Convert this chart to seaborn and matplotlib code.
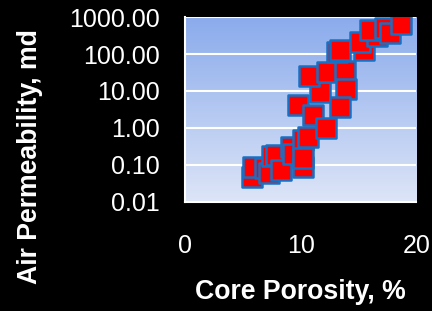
import matplotlib
matplotlib.use("Agg")
import matplotlib.pyplot as plt
import seaborn as sns
import numpy as np
import pandas as pd

# core porosity (%) vs air permeability (md)
porosity = [5.8, 5.9, 6.9, 7.3, 7.5, 7.9, 8.3, 9.2, 9.35, 10.2, 10.2, 10.65,
            10.2, 9.8, 11.1, 12.2, 11.65, 10.7, 12.3, 13.8, 13.9, 13.4,
            13.1, 13.4, 15.5, 15.1, 16.55, 15.97, 17.3, 17.7, 18.7]
permeability = [0.048, 0.089, 0.08, 0.059, 0.17, 0.19, 0.072, 0.31, 0.2, 0.09, 0.47, 0.58,
                0.15, 4.2, 2.2, 1.0, 9.6, 26.0, 32.0, 34.0, 11.0, 3.6,
                117.0, 130.0, 130.0, 218.0, 300.0, 450.0, 500.0, 370.0, 660.0]
x_ticks = [0, 10, 20]
y_ticks = [0.01, 0.1, 1, 10, 100, 1000]
y_tick_labels = ["0.01", "0.10", "1.00", "10.00", "100.00", "1000.00"]

df = pd.DataFrame({"porosity": porosity, "permeability": permeability})

sns.set_theme(style="white")
plt.rcParams["font.family"] = ["Liberation Sans", "DejaVu Sans"]

fig = plt.figure(figsize=(4.32, 3.11), dpi=100, facecolor="black")
ax = fig.add_axes([0.428, 0.351, 0.536, 0.594])
ax.set_facecolor("none")

# vertical gradient background
grad = np.linspace(0, 1, 256).reshape(-1, 1)
top = np.array([138, 171, 236]) / 255
bottom = np.array([221, 229, 247]) / 255
img = bottom + (top - bottom) * grad
ax.imshow(img[:, None, :].repeat(2, axis=1), extent=[0, 1, 0, 1], origin="lower",
          aspect="auto", transform=ax.transAxes, zorder=0)

ax.set_yscale("log")
ax.set_xlim(0, 20)
ax.set_ylim(0.01, 1000)
for yv in y_ticks[1:]:
    ax.axhline(yv, color="white", lw=1.5, zorder=1)

sns.scatterplot(data=df, x="porosity", y="permeability", ax=ax, marker="s",
                s=215, color="#ff0000", edgecolor="#1870c4", linewidth=1.8,
                zorder=3, legend=False)

ax.set_xticks(x_ticks)
ax.set_xticklabels([str(t) for t in x_ticks])
ax.set_yticks(y_ticks)
ax.set_yticklabels(y_tick_labels)
ax.minorticks_off()
ax.tick_params(axis="y", colors="white", labelsize=18, direction="out",
               length=5, width=1.2, pad=13)
ax.tick_params(axis="x", colors="white", labelsize=18, direction="out",
               length=5, width=1.2, pad=18)

for side in ["top", "right"]:
    ax.spines[side].set_visible(False)
for side in ["left", "bottom"]:
    ax.spines[side].set_color("white")
    ax.spines[side].set_linewidth(1.5)

ax.set_xlabel("Core Porosity, %", color="white", fontsize=19.2, fontweight="bold")
ax.set_ylabel("Air Permeability, md", color="white", fontsize=19.2, fontweight="bold")
ax.xaxis.set_label_coords(0.5, -0.49)
ax.yaxis.set_label_coords(-0.667, 0.247)
ax.yaxis.label.set_va("center")
ax.xaxis.label.set_va("center")

fig.savefig("out.png", dpi=100, facecolor="black")
